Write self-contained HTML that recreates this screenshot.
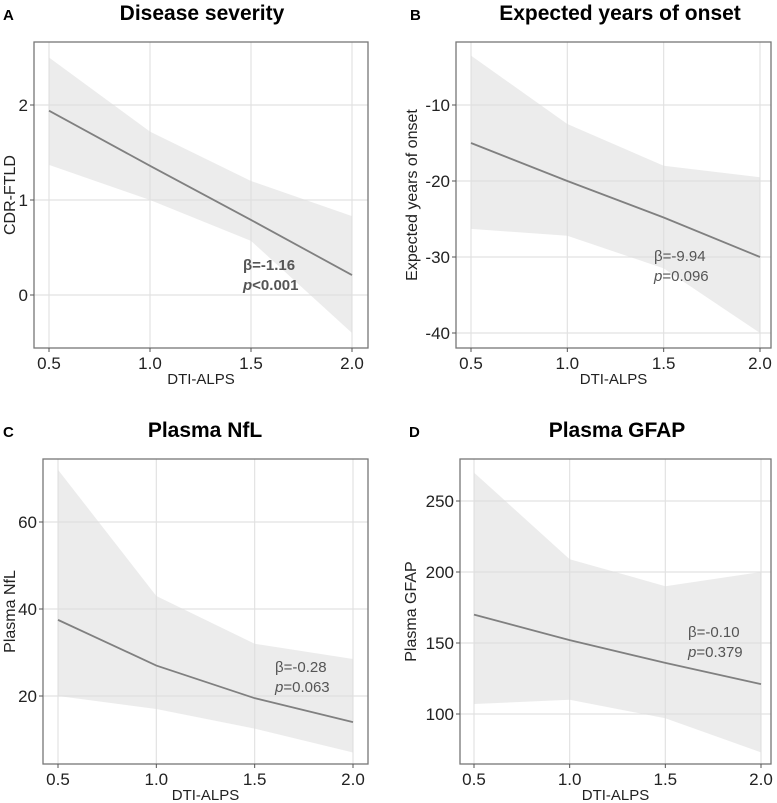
<!DOCTYPE html>
<html><head><meta charset="utf-8">
<style>
body{margin:0;background:#fff;width:777px;height:803px;overflow:hidden}
svg{display:block}
</style></head>
<body>
<svg id="fig" width="777" height="803" xmlns="http://www.w3.org/2000/svg" font-family="Liberation Sans, sans-serif"></svg>
<script>
const xTicks=[0.5,1.0,1.5,2.0];
const xTickLabels=["0.5","1.0","1.5","2.0"];
// Panel A
const aUpper=[2.5,1.72,1.2,0.83];
const aLower=[1.37,1.0,0.57,-0.4];
const aFit=[1.94,1.36,0.79,0.21];
const aYTicks=[0,1,2];
// Panel B
const bUpper=[-3.5,-12.5,-18,-19.5];
const bLower=[-26.3,-27.2,-31.5,-40];
const bFit=[-15,-20,-24.8,-30];
const bYTicks=[-40,-30,-20,-10];
// Panel C
const cUpper=[72,43,32,28.5];
const cLower=[20,17,12.5,7];
const cFit=[37.5,27,19.5,14];
const cYTicks=[20,40,60];
// Panel D
const dUpper=[270,209,190,200];
const dLower=[107,110,97,73];
const dFit=[170,152,136,121];
const dYTicks=[100,150,200,250];

const NS="http://www.w3.org/2000/svg";
const svg=document.getElementById('fig');
function mk(tag,attrs,parent,text){const e=document.createElementNS(NS,tag);for(const k in attrs)e.setAttribute(k,attrs[k]);if(text!==undefined)e.textContent=text;(parent||svg).appendChild(e);return e;}

function panel(o){
  const g=mk('g',{});
  
  
  const sx=v=>o.x0+(v-0.5)/1.5*(o.x1-o.x0);
  const sy=v=>o.yA+(v-o.vA)/(o.vB-o.vA)*(o.yB-o.yA);
  xTicks.forEach(t=>{const l=mk('line',{x1:sx(t),x2:sx(t),y1:o.top,y2:o.bot,stroke:'#e2e2e2','stroke-width':1.2},g);
    });
  o.yt.forEach(t=>{const l=mk('line',{x1:o.left,x2:o.right,y1:sy(t),y2:sy(t),stroke:'#e2e2e2','stroke-width':1.2},g);
    });
  let pts=xTicks.map((x,i)=>sx(x)+','+sy(o.up[i]));
  pts=pts.concat(xTicks.map((x,i)=>sx(x)+','+sy(o.lo[i])).reverse());
  const band=mk('polygon',{points:pts.join(' '),fill:'#dcdcdc',opacity:0.55},g);
  
  const line=mk('polyline',{points:xTicks.map((x,i)=>sx(x)+','+sy(o.fit[i])).join(' '),fill:'none',stroke:'#808080','stroke-width':1.8},g);
  
  const box=mk('rect',{x:o.left,y:o.top,width:o.right-o.left,height:o.bot-o.top,fill:'none',stroke:'#777','stroke-width':1.3},g);
  
  xTicks.forEach((t,i)=>{mk('line',{x1:sx(t),x2:sx(t),y1:o.bot,y2:o.bot+4,stroke:'#555'},g);
    const tx=mk('text',{x:sx(t),y:o.bot+21,'text-anchor':'middle','font-size':17,fill:'#222'},g,xTickLabels[i]);
    });
  o.yt.forEach(t=>{mk('line',{x1:o.left-4,x2:o.left,y1:sy(t),y2:sy(t),stroke:'#555'},g);
    const tx=mk('text',{x:o.left-6,y:sy(t)+6,'text-anchor':'end','font-size':17,fill:'#222'},g,String(t));
    });
  const xt=mk('text',{x:(o.left+o.right)/2,y:o.bot+36,'text-anchor':'middle','font-size':15,fill:'#222'},g,'DTI-ALPS');
  
  const yc=(o.top+o.bot)/2;
  const yt=mk('text',{x:o.ytx,y:yc,'text-anchor':'middle','font-size':16,fill:'#222',transform:`rotate(-90 ${o.ytx} ${yc})`},g,o.ytitle);
  
  const tt=mk('text',{x:o.tx,y:o.top-22,'text-anchor':'middle','font-size':21,'font-weight':'bold',fill:'#000'},g,o.title);
  
  const lt=mk('text',{x:o.lx,y:o.top-22,'font-size':15,'font-weight':'bold',fill:'#000'},g,o.id);
  
  const fw=o.bold?'bold':'normal';
  const b=mk('text',{x:o.ax,y:o.ay,'font-size':15,'font-weight':fw,fill:'#555'},g,o.beta);
  
  const p=mk('text',{x:o.ax,y:o.ay+20,'font-size':15,'font-weight':fw,fill:'#555'},g);
  
  mk('tspan',{'font-style':'italic'},p,'p');mk('tspan',{},p,o.p);
}
panel({id:'A',title:'Disease severity',tx:202,lx:3,left:34,right:368,top:42,bot:348,x0:49,x1:352,yA:295,vA:0,yB:105,vB:2,yt:aYTicks,up:aUpper,lo:aLower,fit:aFit,ytitle:'CDR-FTLD',ytx:15,ax:243,ay:270,beta:'β=-1.16',p:'<0.001',bold:true});
panel({id:'B',title:'Expected years of onset',tx:620,lx:410,left:456,right:771,top:42,bot:348,x0:471,x1:760,yA:105,vA:-10,yB:333,vB:-40,yt:bYTicks,up:bUpper,lo:bLower,fit:bFit,ytitle:'Expected years of onset',ytx:417,ax:654,ay:261,beta:'β=-9.94',p:'=0.096',bold:false});
panel({id:'C',title:'Plasma NfL',tx:205,lx:3,left:43,right:368,top:459,bot:764,x0:58,x1:353,yA:522,vA:60,yB:696,vB:20,yt:cYTicks,up:cUpper,lo:cLower,fit:cFit,ytitle:'Plasma NfL',ytx:15,ax:275,ay:672,beta:'β=-0.28',p:'=0.063',bold:false});
panel({id:'D',title:'Plasma GFAP',tx:617,lx:409,left:460,right:771,top:459,bot:764,x0:474,x1:761,yA:714,vA:100,yB:501,vB:250,yt:dYTicks,up:dUpper,lo:dLower,fit:dFit,ytitle:'Plasma GFAP',ytx:416,ax:688,ay:637,beta:'β=-0.10',p:'=0.379',bold:false});
</script>
</body></html>
